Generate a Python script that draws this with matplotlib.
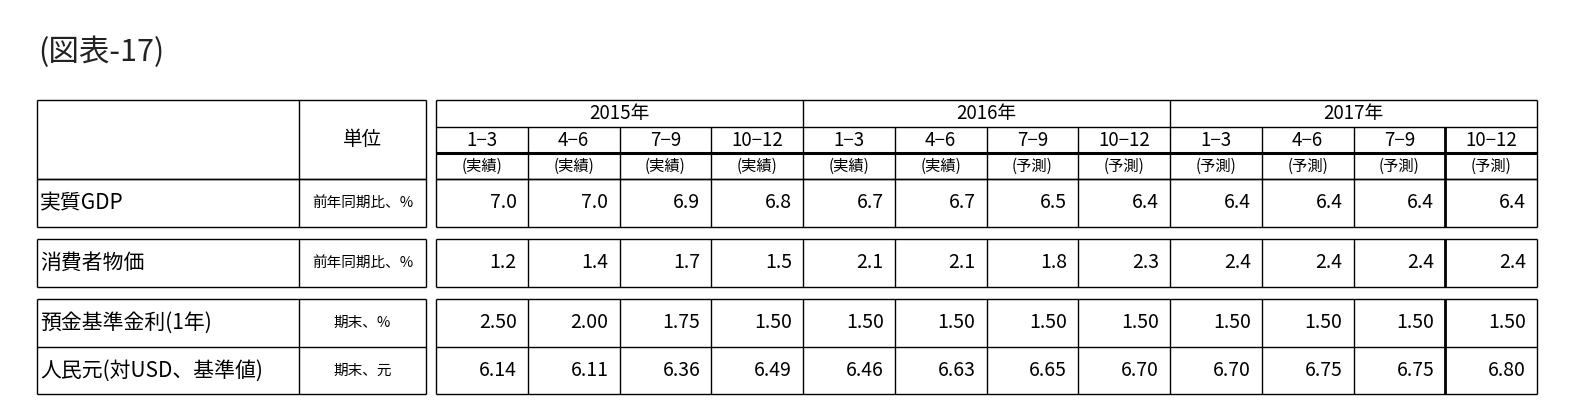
import matplotlib
matplotlib.use("Agg")
import matplotlib.pyplot as plt

plt.rcParams["font.family"] = ["Noto Sans CJK JP", "DejaVu Sans"]

title = "(図表-17)"
years = ["2015年", "2016年", "2017年"]
quarters = ["1-3", "4-6", "7-9", "10-12"] * 3
status = ["(実績)"] * 6 + ["(予測)"] * 6
row_labels = ["実質GDP", "消費者物価", "預金基準金利(1年)", "人民元(対USD、基準値)"]
units = ["前年同期比、%", "前年同期比、%", "期末、%", "期末、元"]
gdp = [7.0, 7.0, 6.9, 6.8, 6.7, 6.7, 6.5, 6.4, 6.4, 6.4, 6.4, 6.4]
cpi = [1.2, 1.4, 1.7, 1.5, 2.1, 2.1, 1.8, 2.3, 2.4, 2.4, 2.4, 2.4]
rate = [2.50, 2.00, 1.75, 1.50, 1.50, 1.50, 1.50, 1.50, 1.50, 1.50, 1.50, 1.50]
cny = [6.14, 6.11, 6.36, 6.49, 6.46, 6.63, 6.65, 6.70, 6.70, 6.75, 6.75, 6.80]
series = [(gdp, 1), (cpi, 1), (rate, 2), (cny, 2)]

W, H = 1574, 418
fig = plt.figure(figsize=(W / 100, H / 100), dpi=100)
ax = fig.add_axes([0, 0, 1, 1])
ax.set_xlim(0, W)
ax.set_ylim(H, 0)
ax.axis("off")

def hl(y, x0, x1, lw=1.0):
    ax.plot([x0, x1], [y, y], color="black", lw=lw, solid_capstyle="butt")
def vl(x, y0, y1, lw=1.0):
    ax.plot([x, x], [y0, y1], color="black", lw=lw, solid_capstyle="butt")

ax.text(38, 52, title, fontsize=22, va="center", ha="left", color="#222")

L0, L1, L2 = 37, 299, 426
D0, D1 = 436, 1537
cw = (D1 - D0) / 12
top, yr, qb, hb = 100, 127, 153, 179
blocks = [(179, [227]), (239, [287]), (299, [347, 394])]
row_y = [(179, 227), (239, 287), (299, 347), (347, 394)]

hl(top, L0, L2); hl(top, D0, D1)
hl(yr, D0, D1)
hl(qb, D0, D1, lw=2.2)
hl(hb, L0, L2); hl(hb, D0, D1)
for b_top, bots in blocks:
    hl(b_top, L0, L2); hl(b_top, D0, D1)
    for b in bots:
        hl(b, L0, L2); hl(b, D0, D1)
segs = [(top, 227), (239, 287), (299, 394)]
for y0, y1 in segs:
    for x in (L0, L1, L2, D0, D1):
        vl(x, y0, y1)
    for i in range(1, 12):
        x = D0 + i * cw
        if i % 4 == 0:
            vl(x, y0, y1)
        else:
            vl(x, max(y0, yr), y1, lw=2.0 if i == 11 else 1.0)

ax.text((L1 + L2) / 2, (top + hb) / 2, "単位", fontsize=14, ha="center", va="center")
for k, y in enumerate(years):
    ax.text(D0 + (4 * k + 2) * cw, (top + yr) / 2, y, fontsize=13.5, ha="center", va="center")
for i in range(12):
    cx = D0 + (i + 0.5) * cw
    ax.text(cx, (yr + qb) / 2 + 1, quarters[i].replace("-", "−"), fontsize=13.5, ha="center", va="center")
    ax.text(cx, (qb + hb) / 2, status[i], fontsize=11, ha="center", va="center")

for r, (lab, unit, (vals, nd)) in enumerate(zip(row_labels, units, series)):
    y0, y1 = row_y[r]
    cy = (y0 + y1) / 2
    ax.text(L0 + 3, cy, lab, fontsize=15, ha="left", va="center")
    ax.text((L1 + L2) / 2, cy, unit, fontsize=10.5, ha="center", va="center")
    for i, v in enumerate(vals):
        ax.text(D0 + (i + 1) * cw - 11, cy, f"{v:.{nd}f}", fontsize=14, ha="right", va="center")

fig.savefig("out.png", dpi=100)
